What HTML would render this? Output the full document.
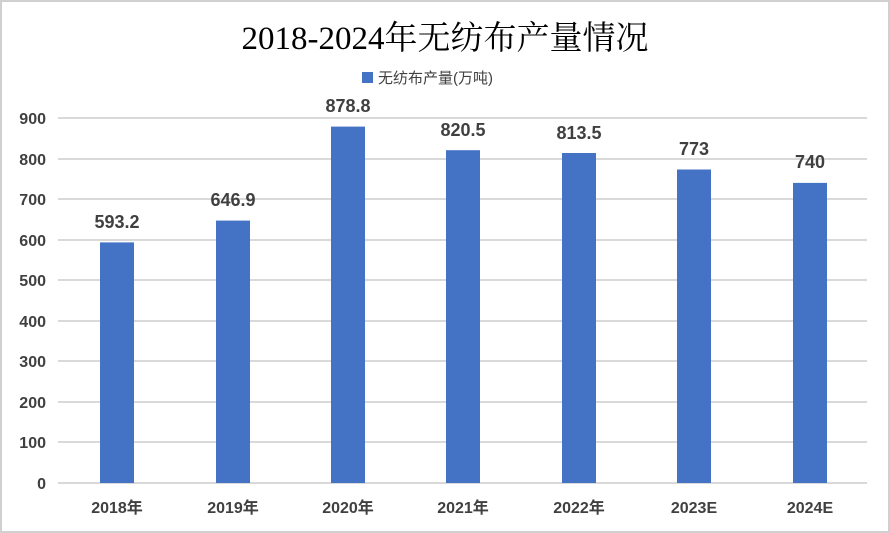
<!DOCTYPE html>
<html><head><meta charset="utf-8"><style>
html,body{margin:0;padding:0;background:#fff}
svg{display:block}
</style></head><body>
<svg width="890" height="533" xmlns="http://www.w3.org/2000/svg">
<rect x="1" y="1" width="888" height="531" fill="#fff" stroke="#d0d0d0" stroke-width="2"/>
<text x="445" y="49" text-anchor="middle" font-family="'Liberation Serif','Noto Serif CJK SC',serif" font-size="33" fill="#000">2018-2024年无纺布产量情况</text>
<rect x="362" y="72" width="11" height="11" fill="#4472c4"/>
<text x="378" y="83" font-family="'Liberation Sans','Noto Sans CJK SC',sans-serif" font-size="15" fill="#404040">无纺布产量(万吨)</text>
<g stroke="#d9d9d9" stroke-width="2">
<line x1="58" x2="867" y1="118" y2="118"/><line x1="58" x2="867" y1="159" y2="159"/><line x1="58" x2="867" y1="199" y2="199"/><line x1="58" x2="867" y1="240" y2="240"/><line x1="58" x2="867" y1="280" y2="280"/><line x1="58" x2="867" y1="321" y2="321"/><line x1="58" x2="867" y1="361" y2="361"/><line x1="58" x2="867" y1="402" y2="402"/><line x1="58" x2="867" y1="442" y2="442"/><line x1="58" x2="867" y1="483" y2="483"/>
</g>
<g font-family="'Liberation Sans',sans-serif" font-size="16" font-weight="bold" fill="#404040" text-anchor="end">
<text x="46" y="124">900</text><text x="46" y="165">800</text><text x="46" y="205">700</text><text x="46" y="246">600</text><text x="46" y="286">500</text><text x="46" y="327">400</text><text x="46" y="367">300</text><text x="46" y="408">200</text><text x="46" y="448">100</text><text x="46" y="489">0</text>
</g>
<g fill="#4472c4">
<rect x="100" y="242.4" width="34" height="240.6"/>
<rect x="216" y="220.6" width="34" height="262.4"/>
<rect x="331" y="126.6" width="34" height="356.4"/>
<rect x="446" y="150.2" width="34" height="332.8"/>
<rect x="562" y="153.0" width="34" height="330"/>
<rect x="677" y="169.5" width="34" height="313.5"/>
<rect x="793" y="182.9" width="34" height="300.1"/>
</g>
<g font-family="'Liberation Sans',sans-serif" font-size="18" font-weight="bold" fill="#404040" text-anchor="middle">
<text x="117" y="228">593.2</text><text x="233" y="206">646.9</text><text x="348" y="112">878.8</text><text x="463" y="136">820.5</text><text x="579" y="139">813.5</text><text x="694" y="155">773</text><text x="810" y="168">740</text>
</g>
<g font-family="'Liberation Sans','Noto Sans CJK SC',sans-serif" font-size="16" font-weight="bold" fill="#404040" text-anchor="middle">
<text x="117" y="513">2018年</text><text x="233" y="513">2019年</text><text x="348" y="513">2020年</text><text x="463" y="513">2021年</text><text x="579" y="513">2022年</text><text x="694" y="513">2023E</text><text x="810" y="513">2024E</text>
</g>
</svg>
</body></html>
